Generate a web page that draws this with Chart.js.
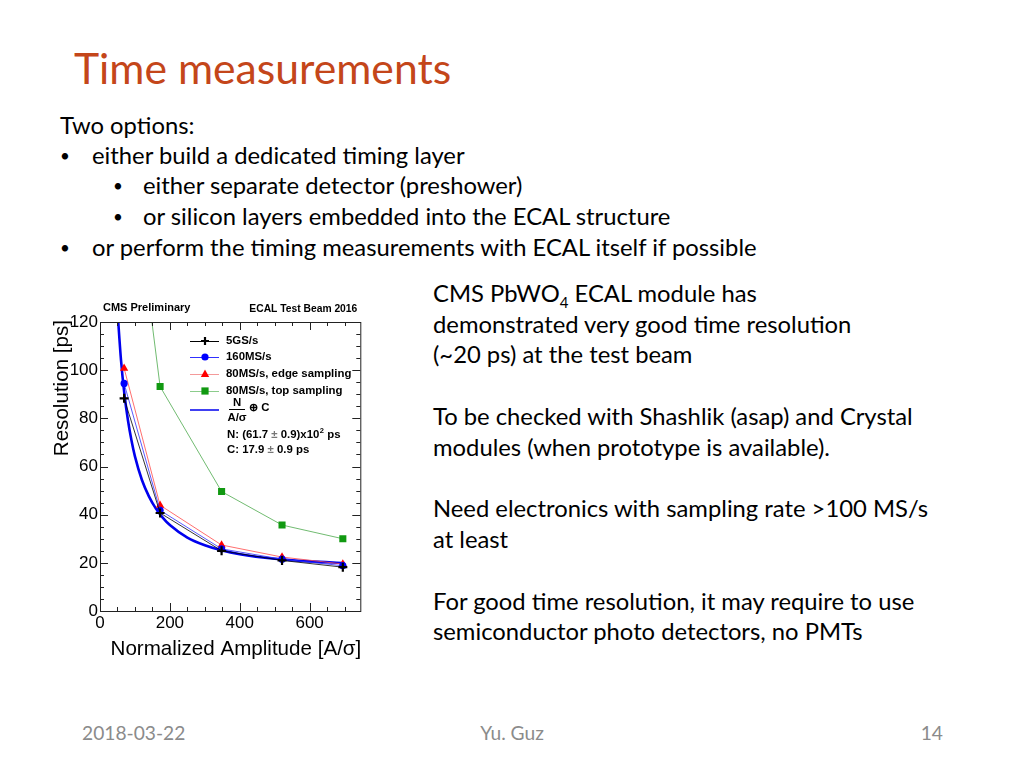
<!DOCTYPE html>
<html>
<head>
<meta charset="utf-8">
<title>Time measurements</title>
<script src="https://cdn.jsdelivr.net/npm/chart.js@4.4.1/dist/chart.umd.min.js"></script>
<style>
  body { margin: 0; width: 1024px; height: 768px; background: #fff; position: relative; overflow: hidden;
         font-family: Lato, "Open Sans", sans-serif; color: #000; }
  .t { position: absolute; white-space: nowrap; line-height: 30px; font-size: 23.8px; }
  .b { position: absolute; white-space: nowrap; line-height: 30px; font-size: 17px; }
  #title { position: absolute; left: 74px; top: 42px; font-size: 42.7px; line-height: 52px; color: #C4461A; white-space: nowrap; }
  .foot { position: absolute; top: 721px; font-size: 19.2px; line-height: 24px; color: #8b8b8b; white-space: nowrap; }
  #chartBox { position: absolute; left: 45px; top: 296px; width: 322px; height: 370px; }
</style>
</head>
<body>

<div id="title">Time measurements</div>

<div class="t" style="left:60px; top:110px;">Two options:</div>
<div class="b" style="left:60px; top:141px;">•</div>
<div class="t" style="left:92px; top:140px;">either build a dedicated timing layer</div>
<div class="b" style="left:113px; top:171px;">•</div>
<div class="t" style="left:143px; top:170px;">either separate detector (preshower)</div>
<div class="b" style="left:113px; top:202px;">•</div>
<div class="t" style="left:143px; top:201px;">or silicon layers embedded into the ECAL structure</div>
<div class="b" style="left:60px; top:233px;">•</div>
<div class="t" style="left:92px; top:232px;">or perform the timing measurements with ECAL itself if possible</div>

<div class="t" style="left:433px; top:278px;">CMS PbWO<sub style="font-size:15px; line-height:0;">4</sub> ECAL module has</div>
<div class="t" style="left:433px; top:309px;">demonstrated very good time resolution</div>
<div class="t" style="left:433px; top:339px;">(~20 ps) at the test beam</div>
<div class="t" style="left:433px; top:401px;">To be checked with Shashlik (asap) and Crystal</div>
<div class="t" style="left:433px; top:432px;">modules (when prototype is available).</div>
<div class="t" style="left:433px; top:493px;">Need electronics with sampling rate &gt;100 MS/s</div>
<div class="t" style="left:433px; top:524px;">at least</div>
<div class="t" style="left:433px; top:586px;">For good time resolution, it may require to use</div>
<div class="t" style="left:433px; top:616px;">semiconductor photo detectors, no PMTs</div>

<div class="foot" style="left:82px;">2018-03-22</div>
<div class="foot" style="left:0; width:1024px; text-align:center;">Yu. Guz</div>
<div class="foot" style="right:81px;">14</div>

<div id="chartBox"><canvas id="timing" width="322" height="370"></canvas></div>

<script>
// 数据：归一化幅度 (A/σ) 与时间分辨率 (ps)
const amplitude = [69, 172, 348, 521, 695];
const res5GS = [88.3, 40.7, 25.0, 21.0, 18.2];
const res160MS = [94.5, 41.8, 25.8, 21.5, 18.8];
const res80Edge = [100.8, 43.9, 27.4, 22.4, 19.5];
const res80Top = [211, 93.2, 49.6, 35.7, 30.0];

// 拟合曲线，读图取点
const fitAmplitude = [50, 60, 70, 80, 90, 100, 120, 140, 160, 180, 200, 250, 300, 350, 400, 500, 600, 700];
const fitRes = [124.7, 104.4, 89.9, 79.2, 70.9, 64.2, 54.4, 47.6, 42.5, 38.7, 35.7, 30.5, 27.3, 25.1, 23.6, 21.7, 20.6, 19.9];

const seriesNames = ['5GS/s', '160MS/s', '80MS/s, edge sampling', '80MS/s, top sampling'];
const xTickValues = [0, 200, 400, 600];
const yTickValues = [0, 20, 40, 60, 80, 100, 120];

const X_MAJOR = 200, X_MINOR = 50;
const Y_MAJOR = 20, Y_MINOR = 5;
const ROOT_FONT = '"Liberation Sans", Arial, sans-serif';
const LEG_FONT = 'bold 11.4px ' + ROOT_FONT;

function toPoints(xs, ys) {
    return xs.map((v, i) => ({ x: v, y: ys[i] }));
}

// 画ROOT风格的标记
function drawMarker(ctx, style, x, y, color) {
    ctx.save();
    ctx.fillStyle = color;
    ctx.strokeStyle = color;
    if (style === 'cross') {
        ctx.lineWidth = 2.2;
        ctx.beginPath();
        ctx.moveTo(x - 4, y); ctx.lineTo(x + 4, y);
        ctx.moveTo(x, y - 4); ctx.lineTo(x, y + 4);
        ctx.stroke();
    } else if (style === 'circle') {
        ctx.beginPath();
        ctx.arc(x, y, 3.6, 0, Math.PI * 2);
        ctx.fill();
    } else if (style === 'triangle') {
        ctx.beginPath();
        ctx.moveTo(x, y - 4.5); ctx.lineTo(x + 4.2, y + 3); ctx.lineTo(x - 4.2, y + 3);
        ctx.closePath();
        ctx.fill();
    } else if (style === 'rect') {
        ctx.fillRect(x - 3.6, y - 3.6, 7.2, 7.2);
    }
    ctx.restore();
}

// 边框、内向刻度、标题和图例
const rootFrame = {
    id: 'rootFrame',
    afterDatasetsDraw(chart) {
        const { ctx, chartArea: a, scales: { x, y } } = chart;
        ctx.save();

        ctx.strokeStyle = '#222';
        ctx.lineWidth = 1;
        ctx.strokeRect(a.left + 0.5, a.top + 0.5, a.right - a.left, a.bottom - a.top);

        ctx.beginPath();
        for (let v = x.min; v <= x.max; v += X_MINOR) {
            const px = Math.round(x.getPixelForValue(v)) + 0.5;
            const len = v % X_MAJOR === 0 ? 8 : 4;
            ctx.moveTo(px, a.bottom); ctx.lineTo(px, a.bottom - len);
            ctx.moveTo(px, a.top); ctx.lineTo(px, a.top + len);
        }
        for (let v = y.min; v <= y.max; v += Y_MINOR) {
            const py = Math.round(y.getPixelForValue(v)) + 0.5;
            const len = v % Y_MAJOR === 0 ? 8 : 4;
            ctx.moveTo(a.left, py); ctx.lineTo(a.left + len, py);
            ctx.moveTo(a.right, py); ctx.lineTo(a.right - len, py);
        }
        ctx.stroke();

        // 轴标题
        ctx.fillStyle = '#000';
        ctx.font = '20.6px ' + ROOT_FONT;
        ctx.textBaseline = 'middle';
        ctx.textAlign = 'right';
        ctx.fillText('Normalized Amplitude [A/σ]', a.right + 1, a.bottom + 38);
        ctx.save();
        ctx.translate(17, a.top - 2);
        ctx.rotate(-Math.PI / 2);
        ctx.fillText('Resolution [ps]', 0, 0);
        ctx.restore();

        // 顶部说明
        ctx.font = 'bold 11px ' + ROOT_FONT;
        ctx.textAlign = 'left';
        ctx.fillText('CMS Preliminary', 58, 12);
        ctx.font = 'bold 10.3px ' + ROOT_FONT;
        ctx.textAlign = 'right';
        ctx.fillText('ECAL Test Beam 2016', a.right - 3, 13);

        // 图例
        ctx.font = LEG_FONT;
        ctx.textAlign = 'left';
        const rows = [45, 61, 78, 95];
        chart.data.datasets.slice(0, 4).forEach((ds, i) => {
            const ly = rows[i];
            ctx.strokeStyle = ds.legendLine;
            ctx.lineWidth = 1;
            ctx.beginPath();
            ctx.moveTo(145, ly + 0.5); ctx.lineTo(174, ly + 0.5);
            ctx.stroke();
            drawMarker(ctx, ds.pointStyle, 160, ly, ds.pointBackgroundColor);
            ctx.fillStyle = '#000';
            ctx.fillText(seriesNames[i], 181, ly);
        });

        // 拟合函数图例
        ctx.strokeStyle = '#0000ee';
        ctx.lineWidth = 1.5;
        ctx.beginPath();
        ctx.moveTo(145, 114); ctx.lineTo(174, 114);
        ctx.stroke();
        ctx.fillStyle = '#000';
        ctx.textAlign = 'center';
        ctx.fillText('N', 192, 107);
        ctx.fillText('A/σ', 192, 122);
        ctx.lineWidth = 1;
        ctx.strokeStyle = '#000';
        ctx.beginPath();
        ctx.moveTo(184, 113.5); ctx.lineTo(200, 113.5);
        ctx.stroke();
        ctx.textAlign = 'left';
        ctx.fillText('⊕ C', 204, 112);

        // 拟合参数
        const parts1 = [['N: (61.7 ', '#000'], ['±', '#777'], [' 0.9)x10', '#000']];
        let tx = 182;
        parts1.forEach(([s, c]) => { ctx.fillStyle = c; ctx.fillText(s, tx, 139); tx += ctx.measureText(s).width; });
        ctx.font = 'bold 7.5px ' + ROOT_FONT;
        ctx.fillStyle = '#000';
        ctx.fillText('2', tx + 0.5, 135);
        tx += ctx.measureText('2').width + 0.5;
        ctx.font = LEG_FONT;
        ctx.fillText(' ps', tx, 139);

        const parts2 = [['C: 17.9 ', '#000'], ['±', '#777'], [' 0.9 ps', '#000']];
        tx = 182;
        parts2.forEach(([s, c]) => { ctx.fillStyle = c; ctx.fillText(s, tx, 154); tx += ctx.measureText(s).width; });

        ctx.restore();
    }
};

const thin = 0.8;

new Chart(document.getElementById('timing'), {
    type: 'line',
    data: {
        datasets: [
            {
                label: seriesNames[0], data: toPoints(amplitude, res5GS),
                borderColor: '#000', borderWidth: thin, legendLine: '#000',
                pointStyle: 'cross', pointRadius: 4.5, pointBorderWidth: 2.2,
                pointBorderColor: '#000', pointBackgroundColor: '#000'
            },
            {
                label: seriesNames[1], data: toPoints(amplitude, res160MS),
                borderColor: '#3030ff', borderWidth: thin, legendLine: '#3030ff',
                pointStyle: 'circle', pointRadius: 3.6, pointBorderWidth: 0,
                pointBackgroundColor: '#0000ff'
            },
            {
                label: seriesNames[2], data: toPoints(amplitude, res80Edge),
                borderColor: '#ff4a4a', borderWidth: thin, legendLine: '#f49a9a',
                pointStyle: 'triangle', pointRadius: 4.8, pointBorderWidth: 0,
                pointBackgroundColor: '#ff0000'
            },
            {
                label: seriesNames[3], data: toPoints(amplitude, res80Top),
                borderColor: '#4caa4c', borderWidth: thin, legendLine: '#8ccc8c',
                pointStyle: 'rect', pointRadius: 5, pointBorderWidth: 0,
                pointBackgroundColor: '#119911'
            },
            {
                label: 'fit', data: toPoints(fitAmplitude, fitRes),
                borderColor: '#0000ee', borderWidth: 2.6, pointRadius: 0,
                cubicInterpolationMode: 'monotone'
            }
        ]
    },
    options: {
        responsive: false,
        animation: false,
        layout: { padding: { left: 0, top: 26, right: 6, bottom: 0 } },
        plugins: { legend: { display: false }, tooltip: { enabled: false } },
        scales: {
            x: {
                type: 'linear', min: 0, max: 745,
                afterBuildTicks: s => { s.ticks = xTickValues.map(v => ({ value: v })); },
                afterFit: s => { s.height = 55; },
                grid: { display: false, drawTicks: false },
                border: { display: false },
                ticks: { color: '#000', padding: 2, maxRotation: 0, autoSkip: false,
                         font: { family: ROOT_FONT, size: 17 } }
            },
            y: {
                type: 'linear', min: 0, max: 120,
                afterBuildTicks: s => { s.ticks = yTickValues.map(v => ({ value: v })); },
                afterFit: s => { s.width = 55; },
                grid: { display: false, drawTicks: false },
                border: { display: false },
                ticks: { color: '#000', padding: 2, autoSkip: false,
                         font: { family: ROOT_FONT, size: 17 } }
            }
        }
    },
    plugins: [rootFrame]
});
</script>
</body>
</html>
